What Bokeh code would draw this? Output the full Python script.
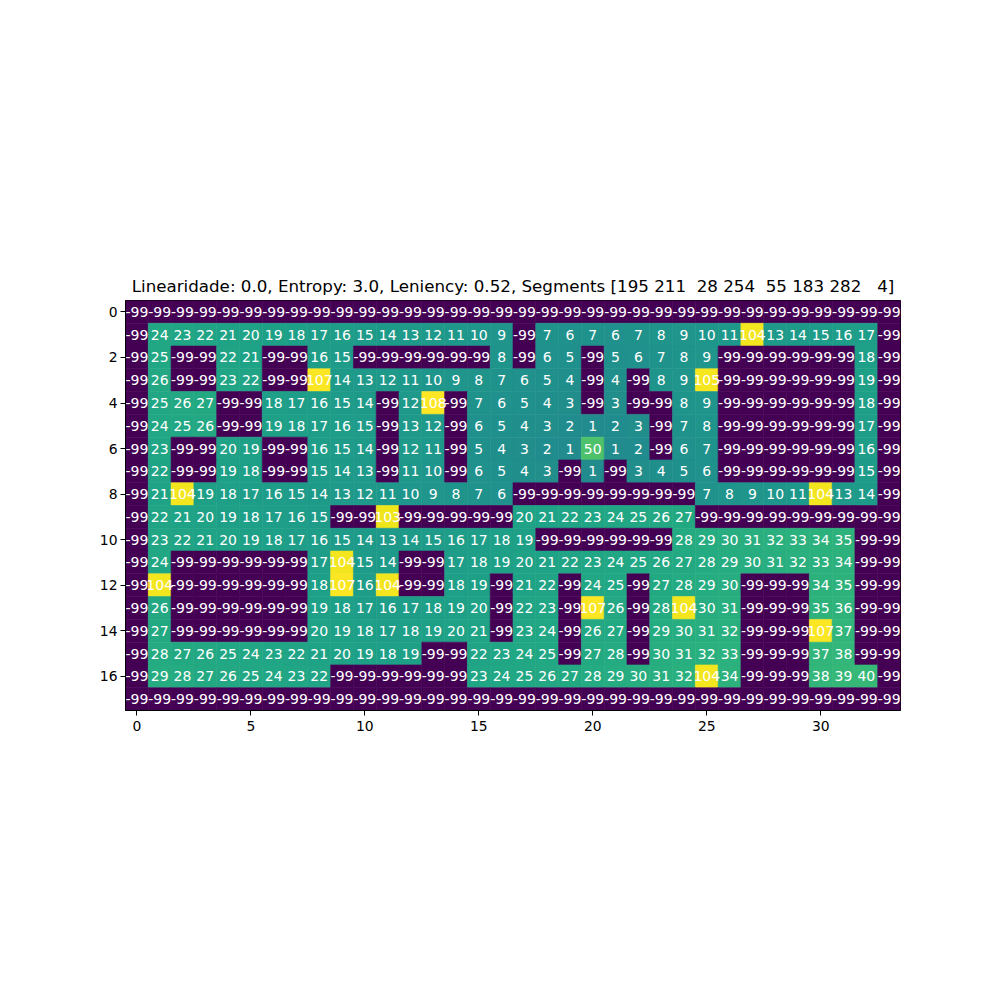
from bokeh.plotting import figure
from bokeh.models import ColumnDataSource, Range1d, FixedTicker
from bokeh.transform import linear_cmap
from bokeh.palettes import Viridis256
from bokeh.core.properties import value
from bokeh.embed import file_html
from bokeh.resources import INLINE

segments = [195, 211, 28, 254, 55, 183, 282, 4]
seg_text = " ".join(str(s).rjust(3, "\u00a0") for s in segments)
title_text = "Linearidade: 0.0, Entropy: 3.0, Leniency: 0.52, Segments [" + seg_text + "]"

row00 = [-99] * 34
row01 = [-99, 24, 23, 22, 21, 20, 19, 18, 17, 16, 15, 14, 13, 12, 11, 10, 9, -99, 7, 6, 7, 6, 7, 8, 9, 10, 11, 104, 13, 14, 15, 16, 17, -99]
row02 = [-99, 25, -99, -99, 22, 21, -99, -99, 16, 15, -99, -99, -99, -99, -99, -99, 8, -99, 6, 5, -99, 5, 6, 7, 8, 9, -99, -99, -99, -99, -99, -99, 18, -99]
row03 = [-99, 26, -99, -99, 23, 22, -99, -99, 107, 14, 13, 12, 11, 10, 9, 8, 7, 6, 5, 4, -99, 4, -99, 8, 9, 105, -99, -99, -99, -99, -99, -99, 19, -99]
row04 = [-99, 25, 26, 27, -99, -99, 18, 17, 16, 15, 14, -99, 12, 108, -99, 7, 6, 5, 4, 3, -99, 3, -99, -99, 8, 9, -99, -99, -99, -99, -99, -99, 18, -99]
row05 = [-99, 24, 25, 26, -99, -99, 19, 18, 17, 16, 15, -99, 13, 12, -99, 6, 5, 4, 3, 2, 1, 2, 3, -99, 7, 8, -99, -99, -99, -99, -99, -99, 17, -99]
row06 = [-99, 23, -99, -99, 20, 19, -99, -99, 16, 15, 14, -99, 12, 11, -99, 5, 4, 3, 2, 1, 50, 1, 2, -99, 6, 7, -99, -99, -99, -99, -99, -99, 16, -99]
row07 = [-99, 22, -99, -99, 19, 18, -99, -99, 15, 14, 13, -99, 11, 10, -99, 6, 5, 4, 3, -99, 1, -99, 3, 4, 5, 6, -99, -99, -99, -99, -99, -99, 15, -99]
row08 = [-99, 21, 104, 19, 18, 17, 16, 15, 14, 13, 12, 11, 10, 9, 8, 7, 6, -99, -99, -99, -99, -99, -99, -99, -99, 7, 8, 9, 10, 11, 104, 13, 14, -99]
row09 = [-99, 22, 21, 20, 19, 18, 17, 16, 15, -99, -99, 103, -99, -99, -99, -99, -99, 20, 21, 22, 23, 24, 25, 26, 27, -99, -99, -99, -99, -99, -99, -99, -99, -99]
row10 = [-99, 23, 22, 21, 20, 19, 18, 17, 16, 15, 14, 13, 14, 15, 16, 17, 18, 19, -99, -99, -99, -99, -99, -99, 28, 29, 30, 31, 32, 33, 34, 35, -99, -99]
row11 = [-99, 24, -99, -99, -99, -99, -99, -99, 17, 104, 15, 14, -99, -99, 17, 18, 19, 20, 21, 22, 23, 24, 25, 26, 27, 28, 29, 30, 31, 32, 33, 34, -99, -99]
row12 = [-99, 104, -99, -99, -99, -99, -99, -99, 18, 107, 16, 104, -99, -99, 18, 19, -99, 21, 22, -99, 24, 25, -99, 27, 28, 29, 30, -99, -99, -99, 34, 35, -99, -99]
row13 = [-99, 26, -99, -99, -99, -99, -99, -99, 19, 18, 17, 16, 17, 18, 19, 20, -99, 22, 23, -99, 107, 26, -99, 28, 104, 30, 31, -99, -99, -99, 35, 36, -99, -99]
row14 = [-99, 27, -99, -99, -99, -99, -99, -99, 20, 19, 18, 17, 18, 19, 20, 21, -99, 23, 24, -99, 26, 27, -99, 29, 30, 31, 32, -99, -99, -99, 107, 37, -99, -99]
row15 = [-99, 28, 27, 26, 25, 24, 23, 22, 21, 20, 19, 18, 19, -99, -99, 22, 23, 24, 25, -99, 27, 28, -99, 30, 31, 32, 33, -99, -99, -99, 37, 38, -99, -99]
row16 = [-99, 29, 28, 27, 26, 25, 24, 23, 22, -99, -99, -99, -99, -99, -99, 23, 24, 25, 26, 27, 28, 29, 30, 31, 32, 104, 34, -99, -99, -99, 38, 39, 40, -99]
row17 = [-99] * 34

rows = [row00, row01, row02, row03, row04, row05, row06, row07, row08,
        row09, row10, row11, row12, row13, row14, row15, row16, row17]

x_ticks = [0, 5, 10, 15, 20, 25, 30]
y_ticks = [0, 2, 4, 6, 8, 10, 12, 14, 16]

xs, ys, vals, labels = [], [], [], []
for r, row in enumerate(rows):
    for c, v in enumerate(row):
        xs.append(c)
        ys.append(r)
        vals.append(v)
        labels.append(str(v))

vmin = min(vals)
vmax = max(vals)
src = ColumnDataSource(dict(x=xs, y=ys, v=vals, t=labels))

ncols = len(rows[0])
nrows = len(rows)

p = figure(width=984, height=984,
           x_range=Range1d(-0.5, ncols - 0.5),
           y_range=Range1d(nrows - 0.5, -0.5),
           output_backend="svg", toolbar_location=None,
           min_border_left=125, min_border_right=84,
           min_border_top=300, min_border_bottom=274)

cmap = linear_cmap("v", Viridis256, vmin, vmax)
p.rect(x="x", y="y", width=1, height=1, source=src,
       fill_color=cmap, line_color=cmap, line_width=0.6)
p.text(x="x", y="y", text="t", source=src, text_color="white",
       text_align="center", text_baseline="middle",
       text_font=value("DejaVu Sans"), text_font_size="14px")

p.title.text = title_text
p.title.align = "center"
p.title.text_font = "DejaVu Sans"
p.title.text_font_style = "normal"
p.title.text_font_size = "16.7px"
p.title.text_color = "black"
p.title.standoff = 9

p.xgrid.visible = False
p.ygrid.visible = False
p.outline_line_color = "black"
p.outline_line_width = 1

for ax in (p.xaxis[0], p.yaxis[0]):
    ax.major_label_text_font = "DejaVu Sans"
    ax.major_label_text_font_size = "13.9px"
    ax.major_label_text_color = "black"
    ax.major_tick_out = 5
    ax.major_tick_in = 0
    ax.minor_tick_out = 0
    ax.minor_tick_in = 0
    ax.major_tick_line_color = "black"
    ax.axis_line_color = "black"
p.xaxis[0].major_label_standoff = 5
p.yaxis[0].major_label_standoff = 3
p.xaxis[0].ticker = FixedTicker(ticks=x_ticks)
p.yaxis[0].ticker = FixedTicker(ticks=y_ticks)

open("out.html", "w").write(file_html(p, INLINE))
